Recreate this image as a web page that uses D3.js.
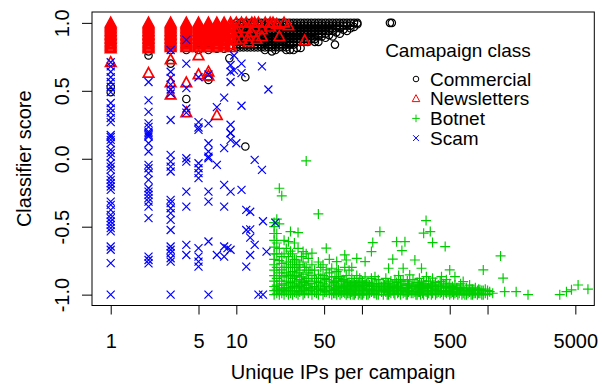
<!DOCTYPE html>
<html>
<head>
<meta charset="utf-8">
<script src="https://cdn.jsdelivr.net/npm/d3@7"></script>
<style>
  body { margin: 0; background: #fff; }
  svg { display: block; }
  text { font-family: "Liberation Sans", Arial, Helvetica, sans-serif; fill: #000; }
</style>
</head>
<body>
<div id="chart"></div>
<script>
// each entry: [unique IPs, [classifier scores at that x]]
const commercial = [
  [1, [0.81, 0.53, 0.49]], [2, [0.79, 0.76]], [3, [0.8, 0.7]], [4, [0.8, 0.44]],
  [5, [0.8]], [6, [0.8, 0.6, 0.58]], [7, [0.81]], [8, [0.81]], [8.8, [0.82, 0.74]],
  [11.8, [0.6, 0.09]],
  [10, [1.0, 0.98, 0.96, 0.94, 0.92, 0.9, 0.88, 0.86, 0.84, 0.82]],
  [10.7, [1.0, 0.98, 0.96, 0.94, 0.92, 0.9, 0.88, 0.86, 0.84, 0.82]],
  [11.4, [1.0, 0.98, 0.96, 0.94, 0.92, 0.9, 0.88, 0.86, 0.84, 0.82]],
  [12.2, [1.0, 0.98, 0.96, 0.94, 0.92, 0.9, 0.88, 0.86, 0.84, 0.82]],
  [13, [1.0, 0.98, 0.96, 0.94, 0.92, 0.9, 0.88, 0.86, 0.84, 0.82]],
  [13.9, [1.0, 0.98, 0.96, 0.94, 0.92, 0.9, 0.88, 0.86, 0.84, 0.82]],
  [14.8, [1.0, 0.98, 0.96, 0.94, 0.92, 0.9, 0.88, 0.86, 0.84, 0.82]],
  [15.8, [1.0, 0.98, 0.96, 0.94, 0.92, 0.9, 0.88, 0.86, 0.84, 0.82]],
  [16.9, [1.0, 0.98, 0.96, 0.94, 0.92, 0.9, 0.88, 0.86, 0.84, 0.82, 0.8]],
  [18, [1.0, 0.98, 0.96, 0.94, 0.92, 0.9, 0.88, 0.86, 0.84, 0.82]],
  [19.2, [1.0, 0.98, 0.96, 0.94, 0.92, 0.9, 0.88, 0.86, 0.84, 0.82, 0.79]],
  [20.5, [1.0, 0.98, 0.96, 0.94, 0.92, 0.9, 0.88, 0.86, 0.84, 0.82, 0.8]],
  [21.9, [1.0, 0.98, 0.96, 0.94, 0.92, 0.9, 0.88, 0.86, 0.84, 0.82]],
  [23.4, [1.0, 0.98, 0.96, 0.94, 0.92, 0.9, 0.88, 0.86, 0.84, 0.82]],
  [25, [1.0, 0.98, 0.96, 0.94, 0.92, 0.9, 0.88, 0.86, 0.84, 0.82, 0.8]],
  [26.7, [1.0, 0.98, 0.96, 0.94, 0.92, 0.9, 0.88, 0.86, 0.84, 0.8]],
  [28.5, [1.0, 0.98, 0.96, 0.94, 0.92, 0.9, 0.88, 0.86, 0.84, 0.8]],
  [30.4, [1.0, 0.98, 0.96, 0.94, 0.92, 0.9, 0.88, 0.86, 0.815]],
  [32.5, [1.0, 0.98, 0.96, 0.94, 0.92, 0.9, 0.88, 0.86, 0.815]],
  [34.7, [1.0, 0.98, 0.96, 0.94, 0.92, 0.9, 0.88, 0.86]],
  [37, [1.0, 0.98, 0.96, 0.94, 0.92, 0.9, 0.88, 0.86]],
  [39.5, [1.0, 0.98, 0.96, 0.94, 0.92, 0.9, 0.88]],
  [42.2, [1.0, 0.98, 0.96, 0.94, 0.92, 0.9, 0.88, 0.86]],
  [45, [1.0, 0.98, 0.96, 0.94, 0.92, 0.9, 0.86]],
  [48, [1.0, 0.98, 0.96, 0.94, 0.92, 0.9]],
  [51.3, [1.0, 0.98, 0.96, 0.94, 0.92, 0.89]],
  [54.8, [1.0, 0.98, 0.96, 0.94, 0.91]],
  [58.5, [1.0, 0.98, 0.96, 0.94, 0.9]],
  [61, [0.84]],
  [62.5, [1.0, 0.98, 0.96, 0.93]],
  [66.7, [1.0, 0.98, 0.96, 0.92]],
  [71.2, [1.0, 0.98, 0.95]],
  [76, [1.0, 0.98, 0.94]],
  [81, [1.0, 0.98, 0.96]],
  [86.5, [1.0, 0.97]],
  [92, [1.0, 0.99]],
  [167, [1.0]], [173, [1.0]]
];

const newsletters = [
  [1, [1.0, 0.99, 0.98, 0.97, 0.96, 0.95, 0.94, 0.93, 0.92, 0.91, 0.9, 0.89, 0.88, 0.87, 0.86, 0.85, 0.84, 0.83, 0.82, 0.81, 0.71]],
  [2, [1.0, 0.99, 0.98, 0.97, 0.96, 0.95, 0.94, 0.93, 0.92, 0.91, 0.9, 0.89, 0.88, 0.87, 0.86, 0.85, 0.84, 0.83, 0.82, 0.81, 0.63]],
  [3, [1.0, 0.99, 0.98, 0.97, 0.96, 0.95, 0.94, 0.93, 0.92, 0.91, 0.9, 0.89, 0.88, 0.87, 0.86, 0.85, 0.84, 0.83, 0.82, 0.73, 0.56, 0.47]],
  [4, [1.0, 0.99, 0.98, 0.97, 0.96, 0.95, 0.94, 0.93, 0.92, 0.91, 0.9, 0.89, 0.88, 0.87, 0.86, 0.85, 0.84, 0.83, 0.82, 0.56, 0.34]],
  [5, [1.0, 0.99, 0.98, 0.97, 0.96, 0.95, 0.94, 0.93, 0.92, 0.91, 0.9, 0.89, 0.88, 0.87, 0.86, 0.85, 0.84, 0.83, 0.82, 0.76, 0.62]],
  [6, [1.0, 0.99, 0.98, 0.97, 0.96, 0.95, 0.94, 0.93, 0.92, 0.91, 0.9, 0.89, 0.88, 0.87, 0.86, 0.85, 0.84, 0.83, 0.82, 0.64, 0.61]],
  [7, [1.0, 0.99, 0.98, 0.97, 0.96, 0.95, 0.94, 0.93, 0.92, 0.91, 0.9, 0.89, 0.88, 0.87, 0.86, 0.85, 0.84, 0.83, 0.82, 0.32]],
  [8, [1.0, 0.99, 0.98, 0.97, 0.96, 0.95, 0.94, 0.93, 0.92, 0.91, 0.9, 0.89, 0.88, 0.87, 0.86, 0.85, 0.84, 0.83]],
  [9, [1.0, 0.98, 0.96, 0.94, 0.92, 0.9, 0.87, 0.84, 0.82]],
  [10, [1.0, 0.96, 0.93, 0.875]], [11, [1.0, 0.88]], [12, [1.0, 0.96]], [12.5, [0.9, 0.86]],
  [13.3, [1.0, 0.93]], [14, [1.0, 0.97]], [14.5, [0.88]], [15, [1.0]], [16, [0.95, 0.9]],
  [17, [1.0]], [18.6, [1.0, 0.97]], [19.6, [1.0]], [21, [0.99]], [22, [0.9]], [24, [1.0]],
  [26, [0.98]], [35, [0.87]]
];

const botnet = [
  [20, [-0.47, -0.5, -0.55, -0.6, -0.65, -0.7, -0.74, -0.78, -0.82, -0.86, -0.9, -0.94, -0.97, -1.0]],
  [21, [-0.445, -0.55, -0.62, -0.7, -0.8, -0.88, -0.93, -0.96, -0.99]],
  [22, [-0.217, -0.48, -0.66, -0.75, -0.84, -0.9, -0.95, -0.98, -1.0]],
  [23, [-0.273, -0.72, -0.77, -0.818, -0.86, -0.92, -0.96, -0.99]],
  [24, [-0.6, -0.7, -0.8, -0.87, -0.93, -0.97, -1.0]],
  [25, [-0.66, -0.76, -0.84, -0.9, -0.95, -0.98]],
  [26, [-0.61, -0.72, -0.8, -0.86, -0.92, -0.96, -1.0]],
  [27, [-0.536, -0.68, -0.78, -0.85, -0.91, -0.95, -0.99]],
  [28, [-0.7, -0.76, -0.83, -0.88, -0.94, -0.97, -1.0]],
  [29, [-0.62, -0.74, -0.8, -0.87, -0.93, -0.98]],
  [30, [-0.745, -0.8, -0.86, -0.9, -0.95, -0.99]],
  [31, [-0.543, -0.66, -0.78, -0.84, -0.92, -0.97, -1.0]],
  [32, [-0.78, -0.82, -0.89, -0.94, -0.98]],
  [33, [-0.72, -0.87, -0.93, -0.97]],
  [34, [-0.683, -0.76, -0.85, -0.91, -0.96, -1.0]],
  [35, [-0.8, -0.9, -0.95, -0.99]],
  [36, [-0.016, -0.7, -0.8, -0.88, -0.93, -0.97]],
  [37.4, [-0.733, -0.84, -0.9, -0.95, -0.99]],
  [38.6, [-0.82, -0.92, -0.97]],
  [40, [-0.695, -0.78, -0.86, -0.92, -0.96, -1.0]],
  [42, [-0.82, -0.88, -0.94, -0.98]],
  [43.5, [-0.9, -0.95, -0.99]],
  [45, [-0.406, -0.76, -0.85, -0.91, -0.96, -1.0]],
  [47, [-0.8, -0.88, -0.93, -0.97]],
  [49, [-0.78, -0.86, -0.92, -0.96, -1.0]],
  [50.5, [-0.88, -0.94, -0.98]],
  [52, [-0.658, -0.818, -0.89, -0.94, -0.98]],
  [55, [-0.74, -0.84, -0.9, -0.95, -0.99]],
  [57.5, [-0.806, -0.87, -0.93, -0.97, -1.0]],
  [59.5, [-0.91, -0.96, -0.99]],
  [61, [-0.868, -0.92, -0.96, -0.99]],
  [63, [-0.757, -0.83, -0.9, -0.95, -1.0]],
  [65, [-0.818, -0.88, -0.94, -0.98]],
  [67, [-0.868, -0.93, -0.97, -1.0]],
  [69, [-0.9, -0.95, -0.99]],
  [71, [-0.89, -0.94, -0.98]],
  [73, [-0.708, -0.8, -0.9, -0.95, -0.99]],
  [75, [-0.745, -0.86, -0.93, -0.97, -1.0]],
  [77, [-0.92, -0.96, -0.99]],
  [79, [-0.82, -0.91, -0.96, -0.99]],
  [81, [-0.93, -0.97, -1.0]],
  [83, [-0.8, -0.88, -0.94, -0.98]],
  [85, [-0.92, -0.97, -1.0]],
  [87, [-0.9, -0.95, -1.0]],
  [89, [-0.93, -0.97, -0.99]],
  [91, [-0.733, -0.86, -0.93, -0.97]],
  [93.5, [-0.91, -0.96, -1.0]],
  [96, [-0.88, -0.94, -0.99]],
  [98.5, [-0.92, -0.97, -1.0]],
  [101, [-0.9, -0.95, -1.0]],
  [103.5, [-0.93, -0.97, -0.99]],
  [106, [-0.757, -0.87, -0.93, -0.97]],
  [109, [-0.92, -0.96, -1.0]],
  [112, [-0.91, -0.96, -1.0]],
  [115, [-0.93, -0.97, -0.99]],
  [119, [-0.683, -0.88, -0.94, -0.98]],
  [122, [-0.617, -0.92, -0.97]],
  [124.5, [-0.94, -0.99]],
  [127, [-0.868, -0.93, -0.99]],
  [131, [-0.92, -0.96, -1.0]],
  [135, [-0.89, -0.95, -1.0]],
  [139, [-0.536, -0.92, -0.97]],
  [143.5, [-0.94, -0.98]],
  [148, [-0.916, -0.96, -1.0]],
  [151.5, [-0.93, -0.97]],
  [155, [-0.88, -0.94, -0.98]],
  [159, [-0.92, -0.96, -1.0]],
  [163, [-0.806, -0.92, -0.97, -1.0]],
  [166.5, [-0.94, -0.98]],
  [170, [-0.9, -0.95, -0.99]],
  [176, [-0.739, -0.93, -0.97]],
  [179.5, [-0.95, -0.99]],
  [183, [-0.89, -0.95, -1.0]],
  [189, [-0.61, -0.91, -0.96]],
  [192.5, [-0.94, -0.99]],
  [196, [-0.86, -0.93, -0.98]],
  [203, [-0.9, -0.95, -1.0]],
  [208, [-0.676, -0.92, -0.97]],
  [213, [-0.806, -0.89, -0.96, -0.99]],
  [220, [-0.61, -0.93, -0.98]],
  [225, [-0.95, -1.0]],
  [230, [-0.9, -0.95, -1.0]],
  [235, [-0.93, -0.98]],
  [240, [-0.855, -0.92, -0.97]],
  [247, [-0.94, -0.99]],
  [255, [-0.89, -0.94, -0.99]],
  [264, [-0.745, -0.93, -0.98]],
  [269, [-0.95, -1.0]],
  [275, [-0.91, -0.96, -1.0]],
  [281, [-0.93, -0.98]],
  [287, [-0.88, -0.94, -0.98]],
  [293, [-0.95, -1.0]],
  [298, [-0.806, -0.92, -0.97]],
  [304, [-0.94, -0.99]],
  [310, [-0.548, -0.9, -0.95, -1.0]],
  [317, [-0.93, -0.97]],
  [324, [-0.455, -0.93, -0.98]],
  [326, [-0.868]],
  [332, [-0.95, -1.0]],
  [340, [-0.9, -0.95, -0.99]],
  [350, [-0.536, -0.92, -0.97]],
  [357, [-0.94, -1.0]],
  [365, [-0.617, -0.879, -0.94, -0.99]],
  [375, [-0.93, -0.97]],
  [385, [-0.91, -0.96, -1.0]],
  [395, [-0.94, -0.99]],
  [405, [-0.93, -0.98]],
  [420, [-0.904, -0.95, -0.99]],
  [430, [-0.868, -0.94, -0.98]],
  [445, [-0.92, -0.97, -1.0]],
  [460, [-0.646, -0.93, -0.98]],
  [470, [-0.89, -0.95, -0.99]],
  [485, [-0.94, -0.98]],
  [500, [-0.818, -0.92, -0.97, -1.0]],
  [512, [-0.95, -0.99]],
  [525, [-0.94, -0.98]],
  [537, [-0.96, -1.0]],
  [550, [-0.868, -0.93, -0.99]],
  [565, [-0.95, -0.98]],
  [580, [-0.95, -1.0]],
  [595, [-0.96, -0.99]],
  [610, [-0.92, -0.97]],
  [625, [-0.95, -1.0]],
  [640, [-0.904, -0.96, -0.99]],
  [660, [-0.97, -1.0]],
  [680, [-0.95, -1.0]],
  [700, [-0.97, -0.99]],
  [720, [-0.93, -0.98]],
  [740, [-0.96, -1.0]],
  [760, [-0.96, -1.0]],
  [780, [-0.97, -0.99]],
  [800, [-0.95, -0.99]],
  [830, [-0.97, -1.0]],
  [850, [-0.96, -0.99]],
  [870, [-0.965, -0.99]],
  [900, [-0.97, -1.0]],
  [925, [-0.818, -0.97, -1.0]],
  [960, [-0.96, -0.99]],
  [1000, [-0.97, -1.0]],
  [1040, [-0.978]], [1100, [-0.99]], [1270, [-0.715]], [1330, [-0.879]], [1370, [-0.978]],
  [1690, [-0.978]], [2100, [-1.0]], [3760, [-1.0]], [4250, [-0.978]], [4660, [-0.965]],
  [5260, [-0.929]], [6300, [-0.96]]
];

const scam = [
  [1, [0.71, 0.68, 0.64, 0.6, 0.565, 0.53, 0.49, 0.41, 0.37, 0.34, 0.3, 0.27, 0.175, 0.16, 0.139, 0.114,
       0.065, 0.041, 0.016, -0.033, -0.058, -0.082, -0.131, -0.155, -0.18, -0.204, -0.229, -0.315,
       -0.34, -0.376, -0.413, -0.437, -0.462, -0.487, -0.511, -0.535, -0.646, -0.67, -0.768, -1.0]],
  [2, [0.565, 0.43, 0.345, 0.26, 0.235, 0.2, 0.175, 0.188, 0.163, 0.114, 0.053, -0.045, -0.07, -0.106,
       -0.155, -0.217, -0.242, -0.266, -0.29, -0.315, -0.352, -0.437, -0.72, -0.745, -0.77]],
  [3, [0.8, 0.64, 0.595, 0.545, 0.51, 0.48, 0.285, 0.028, -0.021, -0.058, -0.094, -0.303, -0.327,
       -0.364, -0.4, -0.45, -0.524, -0.646, -0.67, -0.695, -0.732, -0.757, -1.0]],
  [4, [0.875, 0.7, 0.52, 0.37, 0.34, 0.004, -0.021, -0.242, -0.352, -0.634, -0.708]],
  [5, [0.6, 0.27, 0.23, 0.212, -0.033, -0.07, -0.106, -0.143, -0.658, -0.72, -0.757, -0.794]],
  [6, [0.62, 0.26, 0.114, 0.053, 0.016, 0.004, -0.242, -0.315, -0.609, -1.0]],
  [7, [0.38, -0.045, -0.708]],
  [8, [0.45, 0.078, -0.192, -0.352, -0.646, -0.72]],
  [8.5, [-0.658]],
  [9, [0.69, 0.64, 0.565, 0.25, 0.19, 0.188, 0.139, -0.242, -0.67]],
  [9.6, [0.76, 0.65]],
  [10, [0.114]],
  [11, [0.7, 0.63, 0.39, -0.229]],
  [12, [-0.376, -0.524, -0.794]],
  [12.9, [-0.39, -0.52, -0.58, -0.708]],
  [14, [-0.008, -0.634]],
  [15, [-1.0]],
  [16, [0.68, -0.082]],
  [16.3, [-0.46, -1.0]],
  [17.4, [-0.683]],
  [18, [0.51]],
  [20.4, [-0.47]]
];

const classNames = ["Commercial", "Newsletters", "Botnet", "Scam"];
const classColors = ["#000000", "#ff0000", "#00cd00", "#0000ff"];
const classShapes = ["circle", "triangle", "plus", "cross"];

const xTicks = [1, 5, 10, 50, 100, 500, 1000, 5000];
const xTickLabels = ["1", "5", "10", "50", "", "500", "", "5000"];
const yTicks = [-1, -0.5, 0, 0.5, 1];

const width = 602, height = 384;
const plotLeft = 92, plotRight = 594.3, plotTop = 12, plotBottom = 305.5;

const x = d3.scaleLog()
  .domain([Math.pow(10, -0.149), Math.pow(10, 3.85)])
  .range([plotLeft, plotRight]);
const y = d3.scaleLinear()
  .domain([-1.08, 1.08])
  .range([plotBottom, plotTop]);

function shapePath(shape, s) {
  const p = d3.path();
  if (shape === "circle") {
    p.moveTo(s, 0);
    p.arc(0, 0, s, 0, 2 * Math.PI);
  } else if (shape === "triangle") {
    const h = s * 1.8;
    p.moveTo(0, -h * 0.62);
    p.lineTo(s * 1.05, h * 0.45);
    p.lineTo(-s * 1.05, h * 0.45);
    p.closePath();
  } else if (shape === "plus") {
    p.moveTo(-s, 0); p.lineTo(s, 0);
    p.moveTo(0, -s); p.lineTo(0, s);
  } else {
    p.moveTo(-s, -s); p.lineTo(s, s);
    p.moveTo(-s, s); p.lineTo(s, -s);
  }
  return p.toString();
}
const pointSize = { circle: 3.7, triangle: 5, plus: 5, cross: 4 };
const legendSize = { circle: 2.8, triangle: 3.6, plus: 3.8, cross: 2.9 };

const svg = d3.select("#chart").append("svg")
  .attr("width", width)
  .attr("height", height);

const plot = svg.append("g");
plot.append("clipPath").attr("id", "clip")
  .append("rect").attr("x", plotLeft).attr("y", plotTop)
  .attr("width", plotRight - plotLeft).attr("height", plotBottom - plotTop);

const series = [commercial, newsletters, botnet, scam];
series.forEach((groups, k) => {
  const pts = groups.flatMap(([xv, ys]) => ys.map(yv => ({ x: xv, y: yv })));
  const shape = classShapes[k];
  plot.append("g")
    .attr("clip-path", "url(#clip)")
    .selectAll("path")
    .data(pts)
    .enter()
    .append("path")
    .attr("transform", d => "translate(" + x(d.x) + "," + y(d.y) + ")")
    .attr("d", shapePath(shape, pointSize[shape]))
    .attr("fill", "none")
    .attr("stroke", classColors[k])
    .attr("stroke-width", shape === "triangle" ? 1.7 : 1.2);
});

// box
svg.append("rect")
  .attr("x", plotLeft).attr("y", plotTop)
  .attr("width", plotRight - plotLeft).attr("height", plotBottom - plotTop)
  .attr("fill", "none").attr("stroke", "#000").attr("stroke-width", 1);

const xAxis = d3.axisBottom(x)
  .tickValues(xTicks)
  .tickFormat((d, i) => xTickLabels[i])
  .tickSize(9)
  .tickPadding(19);
const gx = svg.append("g")
  .attr("transform", "translate(0," + plotBottom + ")")
  .call(xAxis);
gx.select(".domain").remove();
gx.selectAll("line").attr("stroke", "#000");
gx.selectAll("text")
  .attr("font-size", 20)
  .attr("font-family", "Liberation Sans, Arial, sans-serif")
  .attr("fill", "#000");

const yAxis = d3.axisLeft(y)
  .tickValues(yTicks)
  .tickFormat(d => d.toFixed(1))
  .tickSize(10);
const gy = svg.append("g")
  .attr("transform", "translate(" + plotLeft + ",0)")
  .call(yAxis);
gy.select(".domain").remove();
gy.selectAll("line").attr("stroke", "#000");
gy.selectAll("text")
  .attr("x", null).attr("dy", null)
  .attr("transform", "translate(-23,0) rotate(-90)")
  .attr("text-anchor", "middle")
  .attr("font-size", 20)
  .attr("font-family", "Liberation Sans, Arial, sans-serif")
  .attr("fill", "#000");

svg.append("text")
  .attr("x", (plotLeft + plotRight) / 2)
  .attr("y", 379)
  .attr("text-anchor", "middle")
  .attr("font-size", 20)
  .text("Unique IPs per campaign");

svg.append("text")
  .attr("transform", "translate(31," + y(0) + ") rotate(-90)")
  .attr("text-anchor", "middle")
  .attr("font-size", 20)
  .text("Classifier score");

// legend
const legend = svg.append("g");
legend.append("text")
  .attr("x", 458).attr("y", 57)
  .attr("text-anchor", "middle")
  .attr("font-size", 19)
  .text("Camapaign class");
classNames.forEach((name, k) => {
  const ly = 79 + k * 19.7;
  const shape = classShapes[k];
  legend.append("path")
    .attr("transform", "translate(416," + ly + ")")
    .attr("d", shapePath(shape, legendSize[shape]))
    .attr("fill", "none")
    .attr("stroke", classColors[k])
    .attr("stroke-width", 1);
  legend.append("text")
    .attr("x", 430).attr("y", ly + 6.5)
    .attr("font-size", 19)
    .text(name);
});
</script>
</body>
</html>
